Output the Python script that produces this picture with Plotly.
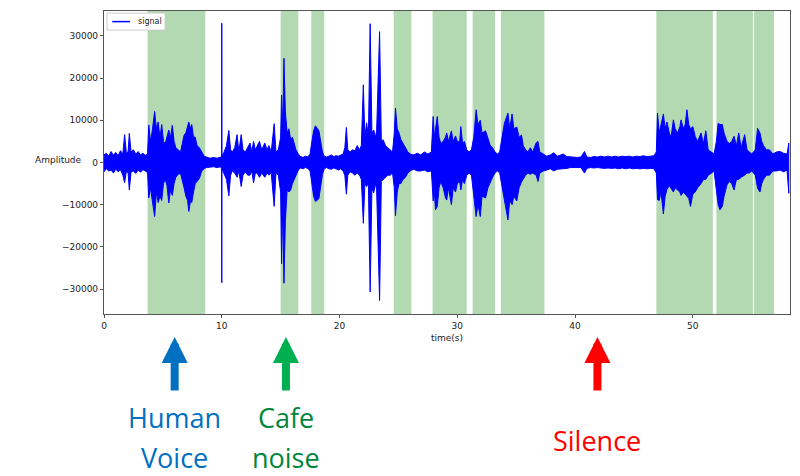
import plotly.graph_objects as go

# green shaded segments (seconds)
span_start = [3.7, 15.0, 17.6, 24.6, 27.9, 31.3, 33.7, 46.9, 52.0, 55.2]
span_end = [8.6, 16.5, 18.7, 26.1, 30.8, 33.2, 37.4, 51.7, 55.1, 56.9]

# signal envelope: (time, upper peak, lower peak)
signal_peaks = [
    (0.0, 1800, -2200), (0.2, 2200, -1500), (0.4, 1500, -2000), (0.6, 2600, -1800),
    (0.8, 1700, -2500), (1.0, 2400, -1600), (1.2, 1600, -2200), (1.4, 2800, -1700),
    (1.6, 2000, -3000), (1.75, 6600, -4800), (1.9, 2200, -2000), (2.05, 2600, -2500),
    (2.15, 6900, -6500), (2.3, 2500, -2200), (2.5, 3000, -2000), (2.7, 2000, -2600),
    (2.9, 2600, -1800), (3.1, 1800, -2300), (3.3, 2200, -1700), (3.5, 1700, -2000),
    (3.7, 2000, -2400), (3.8, 8900, -8400), (3.95, 5000, -6000), (4.1, 7500, -9000),
    (4.3, 12100, -12800), (4.45, 8000, -7000), (4.6, 9600, -9500), (4.75, 6000, -8000),
    (4.9, 9000, -9000), (5.05, 5000, -5000), (5.2, 4500, -4000), (5.35, 6000, -5500),
    (5.5, 7700, -9600), (5.65, 6000, -6500), (5.8, 8800, -7800), (5.95, 5000, -5000),
    (6.1, 3500, -3500), (6.3, 3000, -2800), (6.5, 2500, -2600), (6.65, 4500, -4000),
    (6.8, 6500, -6000), (6.95, 7000, -8000), (7.1, 8500, -9000), (7.2, 9600, -11600),
    (7.35, 8000, -9000), (7.45, 9000, -9500), (7.6, 6000, -7000), (7.75, 6000, -5000),
    (7.9, 4000, -4500), (8.1, 3500, -3800), (8.3, 2500, -2000), (8.5, 1500, -1500),
    (8.7, 1300, -1200), (9.0, 1000, -1100), (9.3, 1200, -1000), (9.6, 1000, -1200),
    (9.9, 1300, -1000), (9.98, 1500, -1500), (10.0, 33000, -28500), (10.02, 1500, -1500),
    (10.2, 2500, -2500), (10.4, 4000, -4000), (10.6, 7600, -7900), (10.75, 3000, -3000),
    (10.9, 2500, -2000), (11.1, 3500, -2500), (11.3, 6600, -3500), (11.45, 2500, -2000),
    (11.65, 6600, -5700), (11.8, 3000, -3000), (12.0, 2500, -2200), (12.2, 3500, -3000),
    (12.4, 4600, -3000), (12.55, 2500, -2000), (12.7, 5000, -4800), (12.85, 3000, -2500),
    (13.0, 4000, -2500), (13.2, 5000, -3500), (13.4, 3000, -2500), (13.65, 4600, -3500),
    (13.85, 3000, -2500), (14.0, 4000, -3000), (14.2, 2500, -2500), (14.45, 9200, -10400),
    (14.6, 2500, -2500), (14.8, 3000, -3000), (15.0, 6000, -7000), (15.08, 16000, -24000),
    (15.18, 8000, -10000), (15.28, 24700, -28600), (15.4, 12000, -14000), (15.55, 7000, -6500),
    (15.7, 8000, -7000), (15.85, 5500, -6500), (16.0, 6000, -5000), (16.15, 4500, -4000),
    (16.3, 3000, -3000), (16.5, 2000, -1800), (16.7, 1400, -1300), (16.9, 1200, -1500),
    (17.1, 1500, -1200), (17.3, 1300, -1400), (17.5, 2000, -2000), (17.65, 5000, -5000),
    (17.8, 7500, -8000), (17.95, 8700, -9200), (18.1, 8000, -9000), (18.25, 7500, -8500),
    (18.4, 5000, -5500), (18.55, 2500, -2800), (18.7, 1500, -1500), (18.9, 1300, -1200),
    (19.1, 1500, -1500), (19.3, 1800, -1600), (19.5, 1400, -1300), (19.7, 1600, -1500),
    (19.9, 1500, -1800), (20.1, 1800, -1500), (20.3, 2000, -2000), (20.45, 3500, -3000),
    (20.58, 8300, -7500), (20.7, 3000, -3000), (20.9, 2500, -2200), (21.1, 3000, -2500),
    (21.3, 2800, -3000), (21.5, 4000, -2500), (21.7, 3000, -3000), (21.85, 4000, -4000),
    (22.02, 18400, -14400), (22.15, 6000, -5000), (22.3, 9400, -5700), (22.45, 6000, -5000),
    (22.6, 32900, -30700), (22.75, 7000, -6000), (22.9, 7700, -7200), (23.05, 6000, -5000),
    (23.15, 7500, -6500), (23.4, 31000, -32700), (23.55, 5000, -4500), (23.7, 5400, -4000),
    (23.9, 4000, -3500), (24.1, 3500, -3000), (24.3, 3000, -3000), (24.5, 2500, -2500),
    (24.65, 7000, -6000), (24.75, 12900, -12600), (24.9, 8000, -7000), (25.05, 7000, -5000),
    (25.2, 5500, -5000), (25.4, 4500, -4000), (25.6, 3500, -3500), (25.8, 2500, -2500),
    (26.0, 2000, -2000), (26.3, 1800, -1600), (26.6, 2200, -2000), (26.9, 1800, -2000),
    (27.2, 2500, -1800), (27.5, 2000, -2200), (27.8, 2500, -2000), (27.95, 10900, -9100),
    (28.05, 6000, -7000), (28.15, 8000, -11200), (28.3, 10900, -10400), (28.45, 6000, -6000),
    (28.6, 4500, -4500), (28.8, 5000, -6000), (29.0, 6000, -8400), (29.1, 7000, -8900),
    (29.25, 5000, -6000), (29.5, 7500, -10000), (29.65, 5000, -6000), (29.85, 6300, -7000),
    (30.0, 5000, -5000), (30.2, 5000, -4500), (30.3, 8500, -6500), (30.45, 4500, -4000),
    (30.6, 5000, -5000), (30.8, 3000, -3000), (31.0, 2500, -2500), (31.2, 3000, -3000),
    (31.4, 6000, -7000), (31.6, 12500, -12800), (31.75, 9000, -10000), (31.95, 10000, -12800),
    (32.1, 7000, -8000), (32.4, 7500, -8400), (32.6, 5500, -6000), (32.8, 4000, -5000),
    (33.0, 3500, -3500), (33.2, 2500, -2500), (33.4, 2000, -2000), (33.6, 2500, -2500),
    (33.8, 6000, -6000), (34.0, 9300, -8900), (34.3, 11700, -13600), (34.45, 8000, -9000),
    (34.65, 11500, -10000), (34.8, 8000, -8000), (35.05, 8400, -9100), (35.25, 6000, -6000),
    (35.45, 6500, -4600), (35.6, 4000, -4000), (35.8, 3000, -3000), (36.0, 2500, -2500),
    (36.2, 3500, -2800), (36.4, 2500, -2500), (36.7, 4700, -3000), (36.85, 5000, -4500),
    (37.0, 2500, -2500), (37.3, 2000, -2000), (37.6, 1500, -1800), (37.9, 1800, -1500),
    (38.2, 2300, -2000), (38.5, 1500, -1600), (38.8, 1800, -1400), (39.0, 2000, -1500),
    (39.3, 1400, -1400), (39.6, 1300, -1200), (39.9, 1200, -1300), (40.2, 1200, -1200),
    (40.5, 1300, -1200), (40.8, 2600, -2500), (41.0, 1300, -1400), (41.3, 1200, -1200),
    (41.6, 1400, -1300), (41.9, 1300, -1200), (42.2, 1500, -1300), (42.5, 1300, -1400),
    (42.8, 1500, -1300), (43.1, 1300, -1400), (43.4, 1500, -1300), (43.7, 1300, -1500),
    (44.0, 1500, -1300), (44.3, 1400, -1500), (44.6, 1500, -1300), (44.9, 1300, -1500),
    (45.2, 1500, -1400), (45.5, 1400, -1500), (45.8, 1600, -1400), (46.1, 1400, -1500),
    (46.4, 1500, -1400), (46.7, 1600, -1500), (46.9, 2500, -2500), (47.0, 11700, -8800),
    (47.15, 7000, -9000), (47.3, 9000, -7000), (47.5, 11500, -12200), (47.65, 8000, -8000),
    (47.8, 9600, -6400), (48.0, 7000, -5500), (48.15, 6000, -6000), (48.35, 10100, -7000),
    (48.5, 8000, -6000), (48.7, 7000, -6500), (48.9, 8500, -7000), (49.0, 10100, -7800),
    (49.2, 8000, -7000), (49.35, 9000, -7500), (49.5, 12500, -8000), (49.65, 9000, -8500),
    (49.8, 8000, -10400), (50.0, 8500, -7500), (50.2, 6200, -7000), (50.4, 5000, -6000),
    (50.7, 7000, -5000), (50.9, 4500, -4000), (51.1, 7500, -4000), (51.3, 3000, -3000),
    (51.6, 2500, -2500), (51.8, 2000, -2000), (52.0, 5000, -6000), (52.15, 9300, -10000),
    (52.3, 9000, -11200), (52.5, 9000, -10400), (52.65, 7000, -8000), (52.9, 5000, -5300),
    (53.1, 4500, -4500), (53.3, 5000, -5000), (53.5, 6200, -6500), (53.7, 4000, -4000),
    (53.9, 7000, -4000), (54.1, 3500, -3500), (54.4, 6600, -3000), (54.6, 3000, -2500),
    (54.8, 2500, -2500), (55.0, 2000, -2000), (55.3, 3000, -3000), (55.5, 8100, -6100),
    (55.7, 7000, -7000), (55.85, 5000, -5000), (56.0, 4000, -4000), (56.25, 3000, -3000),
    (56.5, 3000, -3000), (56.8, 2000, -2000), (57.1, 2500, -2000), (57.4, 2600, -1800),
    (57.7, 2200, -2200), (58.0, 2000, -1800), (58.15, 4600, -7300),
]

sig_t = [p[0] for p in signal_peaks]
sig_hi = [p[1] for p in signal_peaks]
sig_lo = [p[2] for p in signal_peaks]

# labels under the axis
label_x = [6.0, 15.45, 41.9]
label_top = ["Human", "Cafe", "Silence"]
label_bottom = ["Voice", "noise", ""]
arrow_colors = ["#0070C0", "#00B050", "#FF0000"]
text_colors = ["#0070C0", "#00863C", "#FF0000"]

fig = go.Figure()

fig.add_trace(go.Scatter(
    x=sig_t + sig_t[::-1],
    y=sig_hi + sig_lo[::-1],
    mode='lines',
    fill='toself',
    fillcolor='#0000FF',
    line=dict(color='#0000FF', width=1),
    name='signal',
    showlegend=False,
    hoverinfo='skip',
))

shapes = []
for s, e in zip(span_start, span_end):
    shapes.append(dict(
        type='rect', xref='x', yref='paper', x0=s, x1=e, y0=0, y1=1,
        fillcolor='rgba(0,128,0,0.3)', line=dict(width=0), layer='below',
    ))

# small matplotlib-style legend box in the upper left corner
shapes.append(dict(type='rect', xref='paper', yref='paper', x0=0.0044, x1=0.089,
                   y0=0.937, y1=0.993, fillcolor='white',
                   line=dict(color='#cccccc', width=1), layer='above'))
shapes.append(dict(type='line', xref='paper', yref='paper', x0=0.012, x1=0.038,
                   y0=0.965, y1=0.965, line=dict(color='#0000FF', width=1.5),
                   layer='above'))

annotations = [
    dict(text='signal', xref='paper', yref='paper', x=0.046, y=0.966,
         xanchor='left', yanchor='middle', showarrow=False,
         font=dict(size=8, color='#222')),
    dict(text='Amplitude', xref='paper', yref='paper', x=-0.067, y=0.508,
         xanchor='center', yanchor='middle',
         showarrow=False, font=dict(size=9, color='#222')),
    dict(text='time(s)', xref='paper', yref='paper', x=0.5, y=-0.079,
         xanchor='center', yanchor='middle',
         showarrow=False, font=dict(size=9, color='#222')),
]
for i, lx in enumerate(label_x):
    annotations.append(dict(
        text='', x=lx, y=-0.076, xref='x', yref='paper',
        showarrow=True, ax=0, ay=55, arrowhead=2, arrowsize=0.65,
        arrowwidth=8, arrowcolor=arrow_colors[i],
    ))
    font = dict(family='Open Sans', size=27, color=text_colors[i])
    if label_bottom[i]:
        annotations.append(dict(text=label_top[i], x=lx, y=-0.34, xref='x', yref='paper',
                                xanchor='center', yanchor='middle', showarrow=False, font=font))
        annotations.append(dict(text=label_bottom[i], x=lx, y=-0.472, xref='x', yref='paper',
                                xanchor='center', yanchor='middle', showarrow=False, font=font))
    else:
        annotations.append(dict(text=label_top[i], x=lx, y=-0.416, xref='x', yref='paper',
                                xanchor='center', yanchor='middle', showarrow=False, font=font))

# the page body adds an 8px margin, so the figure is 8px smaller on each side
fig.update_layout(
    width=792, height=468,
    margin=dict(l=96, r=10, t=3, b=162),
    paper_bgcolor='white', plot_bgcolor='white',
    font=dict(family='DejaVu Sans', size=9, color='#222'),
    shapes=shapes,
    annotations=annotations,
    showlegend=False,
)
fig.update_xaxes(
    range=[0, 58.25], tickvals=[0, 10, 20, 30, 40, 50],
    showgrid=False, zeroline=False, showline=True, mirror=True,
    linecolor='#555', linewidth=1.2, ticks='outside', ticklen=3, tickcolor='#555',
)
fig.update_yaxes(
    range=[-35900, 35900], tickvals=[-30000, -20000, -10000, 0, 10000, 20000, 30000],
    tickformat='d',
    showgrid=False, zeroline=False, showline=True, mirror=True,
    linecolor='#555', linewidth=1.2, ticks='outside', ticklen=3, tickcolor='#555',
)

fig.write_html("out.html")
